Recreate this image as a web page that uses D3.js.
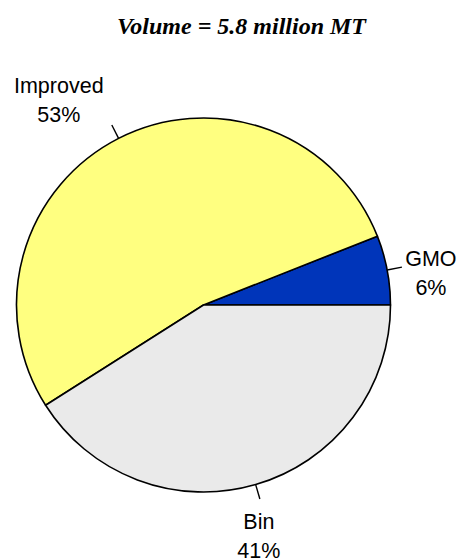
<!DOCTYPE html>
<html>
<head>
<meta charset="utf-8">
<script src="https://cdn.jsdelivr.net/npm/d3@7/dist/d3.min.js"></script>
<style>
  html, body { margin: 0; padding: 0; background: #fff; }
  svg { display: block; }
</style>
</head>
<body>
<svg id="chart" width="459" height="560"></svg>
<script>
// Volume split by seed type
const categories = ["GMO", "Improved", "Bin"];
const shares = [6, 53, 41];
const colors = ["#0035BA", "#FFFF80", "#EAEAEA"];
const titleText = "Volume = 5.8 million MT";

const width = 459, height = 560;
const cx = 203.5, cy = 305, radius = 187;

const svg = d3.select("#chart");

svg.append("text")
  .attr("x", 241.5)
  .attr("y", 34)
  .attr("text-anchor", "middle")
  .attr("font-family", "'Liberation Serif', 'Times New Roman', serif")
  .attr("font-weight", "bold")
  .attr("font-style", "italic")
  .attr("font-size", 24)
  .text(titleText);

const data = categories.map((c, i) => ({ name: c, value: shares[i], color: colors[i] }));

// Slices run counterclockwise starting at 3 o'clock
const pie = d3.pie()
  .value(d => d.value)
  .sort(null)
  .startAngle(Math.PI / 2)
  .endAngle(Math.PI / 2 - 2 * Math.PI);

const arcs = pie(data);
const arc = d3.arc().innerRadius(0).outerRadius(radius);

const g = svg.append("g").attr("transform", `translate(${cx},${cy})`);

g.selectAll("path.slice")
  .data(arcs)
  .join("path")
  .attr("class", "slice")
  .attr("d", arc)
  .attr("fill", d => d.data.color)
  .attr("stroke", "#000")
  .attr("stroke-width", 1.6)
  .attr("stroke-linejoin", "round");

// Leader lines: short radial ticks outward from each slice's mid-angle
const leaderLen = 15;
const point = (a, r) => [Math.sin(a) * r, -Math.cos(a) * r];

// Label block offsets from leader end (centre x, first baseline)
const labelOffset = {
  GMO: [29, -1],
  Improved: [-53, -32],
  Bin: [-1, 30]
};

arcs.forEach(d => {
  const mid = (d.startAngle + d.endAngle) / 2;
  const p0 = point(mid, radius);
  const p1 = point(mid, radius + leaderLen);
  g.append("line")
    .attr("x1", p0[0]).attr("y1", p0[1])
    .attr("x2", p1[0]).attr("y2", p1[1])
    .attr("stroke", "#000")
    .attr("stroke-width", 1.4);

  const off = labelOffset[d.data.name];
  const t = g.append("text")
    .attr("text-anchor", "middle")
    .attr("font-family", "'Liberation Sans', Arial, sans-serif")
    .attr("font-size", 21.5)
    .attr("fill", "#000");
  t.append("tspan")
    .attr("x", p1[0] + off[0])
    .attr("y", p1[1] + off[1])
    .text(d.data.name);
  t.append("tspan")
    .attr("x", p1[0] + off[0])
    .attr("dy", 29)
    .text(d.data.value + "%");
});
</script>
</body>
</html>
